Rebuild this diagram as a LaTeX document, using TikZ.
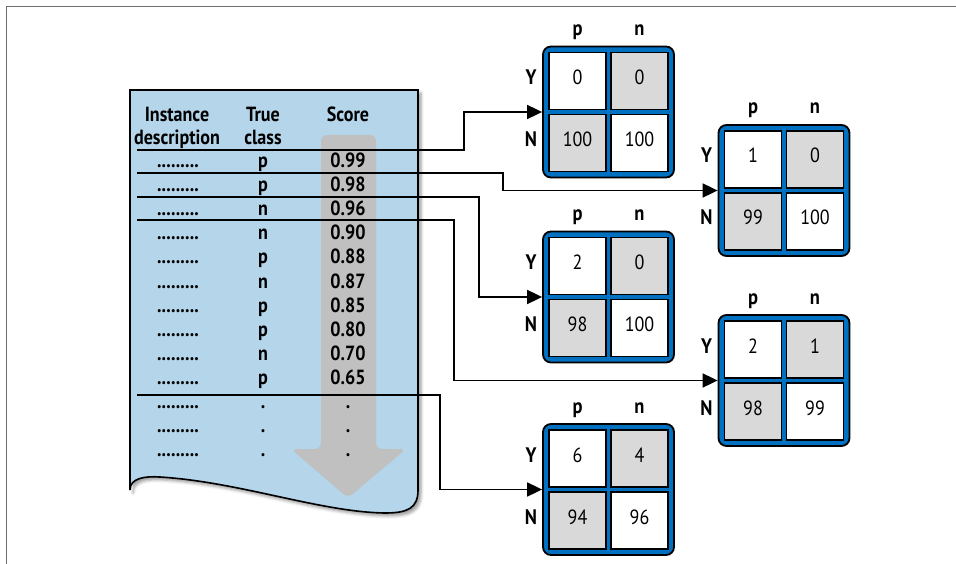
\documentclass[tikz,border=0pt]{standalone}
\usepackage{fontspec}
\setmainfont{PT Sans}[FakeStretch=0.88]
\usetikzlibrary{arrows.meta,shadows.blur}
\definecolor{docblue}{RGB}{180,213,234}
\definecolor{matblue}{RGB}{0,112,192}
\definecolor{cellgray}{RGB}{217,217,217}
\definecolor{arrowgray}{RGB}{192,192,192}
\definecolor{framegray}{RGB}{110,110,110}
\newcommand\confmat[7]{%
  \node[matbox] (#1) at (#2,#3) {};
  \node[cellbox,fill=white]    (#1a) at ({#2-31},{#3-31}) {#4};
  \node[cellbox,fill=cellgray] (#1b) at ({#2+31},{#3-31}) {#5};
  \node[cellbox,fill=cellgray] (#1c) at ({#2-31},{#3+31}) {#6};
  \node[cellbox,fill=white]    (#1d) at ({#2+31},{#3+31}) {#7};
  \node[toplbl] (#1p) at ({#2-31},{#3-76.5}) {p};
  \node[toplbl] (#1n) at ({#2+31},{#3-76.5}) {n};
  \node[sidelbl] (#1Y) at ({#2-77.5},{#3-31}) {Y};
  \node[sidelbl] (#1N) at ({#2-77.5},{#3+31}) {N};
}
\begin{document}
\begin{tikzpicture}[x=1pt,y=-1pt,
  matbox/.style={draw=black,line width=1.8pt,fill=matblue,rounded corners=8pt,minimum width=131pt,minimum height=131pt,inner sep=0pt},
  cellbox/.style={draw=black,line width=1.4pt,minimum width=57pt,minimum height=57pt,inner sep=0pt,text height=0.7em,text depth=0pt,font=\fontsize{20.5}{22}\selectfont},
  toplbl/.style={anchor=base,inner sep=0pt,font=\fontsize{21}{23}\selectfont\bfseries},
  sidelbl/.style={inner sep=0pt,text height=0.7em,text depth=0pt,font=\fontsize{21}{23}\selectfont\bfseries},
  rowtxt/.style={anchor=base,inner sep=0pt,font=\fontsize{20.5}{22}\selectfont\bfseries},
  headtxt/.style={anchor=base,inner sep=0pt,font=\fontsize{20.5}{22}\selectfont\bfseries},
  conn/.style={draw=black,line width=1.8pt},
  arr/.style={-{Triangle[length=15pt,width=14pt]}}
]
\useasboundingbox (0,0) rectangle (956,564);
% page frame
\draw[framegray,line width=1pt] (6,564) -- (6,7) -- (956,7);
% document
\draw[fill=docblue,line width=1.6pt,blur shadow={shadow xshift=3pt,shadow yshift=-3pt,shadow blur radius=3pt,shadow opacity=40}]
  (130,490) -- (130,90) -- (418,90) -- (418,490)
  .. controls (418,508) and (408,513) .. (385,513)
  .. controls (320,512) and (240,482) .. (160,477)
  .. controls (145,476) and (130,478) .. (130,490) -- cycle;
% gray arrow
\fill[arrowgray,rounded corners=6pt] (321,449) -- (321,135) -- (376,135) -- (376,449) -- (406,449) -- (348,498) -- (291,449) -- cycle;
% headers
\node[headtxt] (h1a) at (177,122) {Instance};
\node[headtxt] (h1b) at (177,145) {description};
\node[headtxt] (h2a) at (263,122) {True};
\node[headtxt] (h2b) at (263,145) {class};
\node[headtxt] (h3) at (348,122) {Score};
% rows
\foreach \c/\s [count=\i from 0] in {p/0.99,p/0.98,n/0.96,n/0.90,p/0.88,n/0.87,p/0.85,p/0.80,n/0.70,p/0.65,./.,./.,./.}{
  \node[rowtxt] (d\i) at (178,{168+24*\i}) {.........};
  \node[rowtxt] (c\i) at (263,{168+24*\i}) {\c};
  \node[rowtxt] (s\i) at (348,{168+24*\i}) {\s};
}
% matrices
\confmat{B1}{608.5}{112}{0}{0}{100}{100}
\confmat{B2}{784}{190.5}{1}{0}{99}{100}
\confmat{B3}{608.5}{297}{2}{0}{98}{100}
\confmat{B4}{784}{380.5}{2}{1}{98}{99}
\confmat{B5}{608.5}{489.5}{6}{4}{94}{96}
% threshold start points
\coordinate (t1) at (137,150);
\coordinate (t2) at (137,173);
\coordinate (t3) at (137,197);
\coordinate (t4) at (137,220);
\coordinate (t5) at (137,395);
% connectors
\draw[conn,arr] (t1) -| ([xshift=-78pt]B1.west) -- (B1.west);
\draw[conn,arr] (t2) -| ([xshift=-215pt]B2.west) -- (B2.west);
\draw[conn,arr] (t3) -| ([xshift=-63pt]B3.west) -- (B3.west);
\draw[conn,arr] (t4) -| ([xshift=-264pt]B4.west) -- (B4.west);
\draw[conn,arr] (t5) -| ([xshift=-102pt]B5.west) -- (B5.west);
\end{tikzpicture}
\end{document}
